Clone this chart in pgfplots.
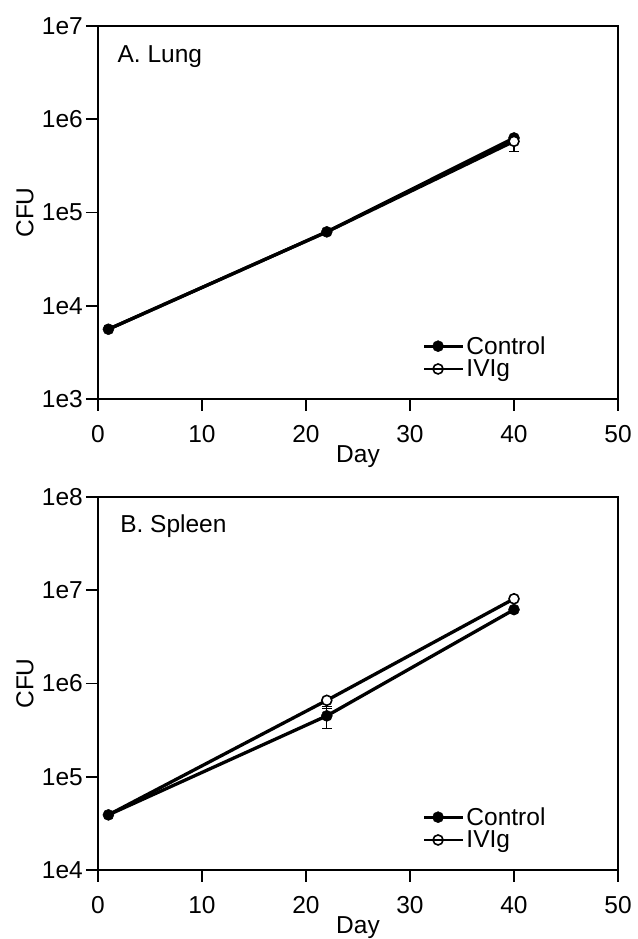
\documentclass[border=0pt]{standalone}
\usepackage{fontspec}
\setmainfont{Liberation Sans}
\usepackage{pgfplots}
\pgfplotsset{compat=1.18}
\newcommand{\bigf}{\fontsize{24.5}{29}\selectfont}
\pgfplotsset{
  legend image code/.code={\draw[mark repeat=2,mark phase=2,#1] plot coordinates {(0pt,0pt) (14pt,0pt) (28pt,0pt)}; \path (0pt,0pt) -- (39pt,0pt);},
}
\begin{document}
\begin{tikzpicture}
\useasboundingbox (-98pt,26pt) rectangle (539pt,-913pt);
% ---------------- A. Lung
\begin{axis}[at={(0pt,0pt)}, anchor=north west,
    scale only axis, width=520pt, height=373pt,
    xmin=0, xmax=50, xtick={0,10,20,30,40,50}, xticklabels={0,10,20,30,40,50},
    ymode=log, yminorticks=false,
    ymin=1e3, ymax=1e7, ytick={1e3,1e4,1e5,1e6,1e7}, yticklabels={1e3,1e4,1e5,1e6,1e7},
    tick align=outside, xtick pos=bottom, ytick pos=left,
    major tick length=12pt,
    axis line style={line width=1.6pt},
    major tick style={black, line width=1.6pt},
    tick label style={font=\bigf},
    label style={font=\bigf},
    yticklabel style={inner sep=2pt, xshift=-1pt},
    xticklabel style={yshift=-11pt},
    xlabel={Day}, ylabel={CFU},
    xlabel style={at={(rel axis cs:0.5,-0.1555)}, anchor=center},
    ylabel style={at={(rel axis cs:-0.1404,0.5)}, anchor=center},
    legend cell align=left,
    legend style={at={(rel axis cs:0.624,0.05)}, anchor=south west, draw=none, fill=none, inner sep=0pt, font=\bigf}]
\addplot[forget plot, black, line width=3.3pt, no marks] coordinates {(1,5.6e3) (22,6.2e4) (40,5.8e5)};
\addplot[forget plot, black, line width=3.3pt, mark=*, mark size=5.5pt, mark options={solid, fill=black, line width=0.5pt}] coordinates {(1,5.6e3) (22,6.2e4) (40,6.3e5)};
\addplot[forget plot, black, only marks, mark=*, mark size=5pt, mark options={fill=white, draw=black, line width=1.6pt}, mark indices={3},
   error bars/y dir=both, error bars/y explicit, error bars/error bar style={line width=1.3pt}, error bars/error mark options={rotate=90, mark size=5pt, line width=1.3pt}]
   coordinates {(1,5.6e3) (22,6.2e4) (40,5.8e5) -= (0,1.3e5)};
\addlegendimage{black, line width=2.8pt, mark=*, mark size=5.5pt, mark options={solid, fill=black, line width=0.5pt}}
\addlegendentry{Control}
\addlegendimage{black, line width=2.5pt, mark=*, mark size=5pt, mark options={solid, fill=white, draw=black, line width=1.6pt}}
\addlegendentry{IVIg}
\node[anchor=base west, font=\bigf] at (rel axis cs:0.031,0.901) {A. Lung};
\end{axis}
% ---------------- B. Spleen
\begin{axis}[at={(0pt,-471pt)}, anchor=north west,
    scale only axis, width=520pt, height=373pt,
    xmin=0, xmax=50, xtick={0,10,20,30,40,50}, xticklabels={0,10,20,30,40,50},
    ymode=log, yminorticks=false,
    ymin=1e4, ymax=1e8, ytick={1e4,1e5,1e6,1e7,1e8}, yticklabels={1e4,1e5,1e6,1e7,1e8},
    tick align=outside, xtick pos=bottom, ytick pos=left,
    major tick length=12pt,
    axis line style={line width=1.6pt},
    major tick style={black, line width=1.6pt},
    tick label style={font=\bigf},
    label style={font=\bigf},
    yticklabel style={inner sep=2pt, xshift=-1pt},
    xticklabel style={yshift=-11pt},
    xlabel={Day}, ylabel={CFU},
    xlabel style={at={(rel axis cs:0.5,-0.1555)}, anchor=center},
    ylabel style={at={(rel axis cs:-0.1404,0.5)}, anchor=center},
    legend cell align=left,
    legend style={at={(rel axis cs:0.624,0.05)}, anchor=south west, draw=none, fill=none, inner sep=0pt, font=\bigf}]
\addplot[forget plot, black, line width=3.3pt, no marks] coordinates {(1,3.9e4) (22,6.6e5) (40,8.1e6)};
\addplot[forget plot, black, line width=3.3pt, mark=*, mark size=5.5pt, mark options={solid, fill=black, line width=0.5pt},
   error bars/y dir=both, error bars/y explicit, error bars/error bar style={line width=1.3pt}, error bars/error mark options={rotate=90, mark size=5pt, line width=1.3pt}]
   coordinates {(1,3.9e4) (22,4.5e5) +- (0,1.2e5) (40,6.2e6)};
\addplot[forget plot, black, only marks, mark=*, mark size=5pt, mark options={fill=white, draw=black, line width=1.6pt}, mark indices={2,3},
   error bars/y dir=both, error bars/y explicit, error bars/error bar style={line width=1.3pt}, error bars/error mark options={rotate=90, mark size=5pt, line width=1.3pt}]
   coordinates {(1,3.9e4) (22,6.6e5) -= (0,1.2e5) (40,8.1e6)};
\addlegendimage{black, line width=2.8pt, mark=*, mark size=5.5pt, mark options={solid, fill=black, line width=0.5pt}}
\addlegendentry{Control}
\addlegendimage{black, line width=2.5pt, mark=*, mark size=5pt, mark options={solid, fill=white, draw=black, line width=1.6pt}}
\addlegendentry{IVIg}
\node[anchor=base west, font=\bigf] at (rel axis cs:0.036,0.906) {B. Spleen};
\end{axis}
\end{tikzpicture}
\end{document}
